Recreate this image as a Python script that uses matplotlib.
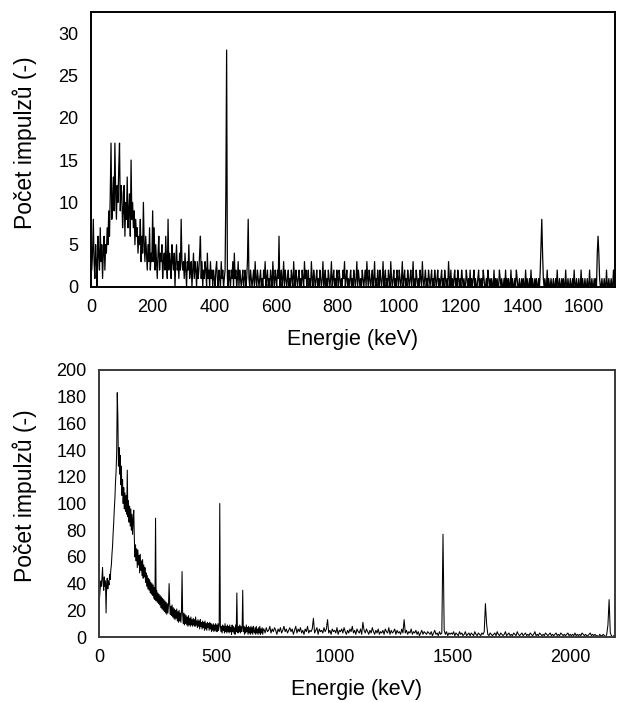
import numpy as np
import matplotlib
matplotlib.use("Agg")
import matplotlib.pyplot as plt

plt.rcParams['font.family'] = ['Liberation Sans', 'DejaVu Sans']
plt.rcParams['path.simplify'] = False

# ---------------- top spectrum: 2.5 keV channels, 0 .. 1697.5 keV ----------------
top_step_kev = 2.5
top_counts = [
    # 0-97.5
    5, 2, 4, 8, 3, 1, 5, 3, 0, 6, 4, 2, 7, 3, 5, 1, 4, 6, 2, 5,
    4, 7, 5, 9, 6, 11, 17, 8, 10, 13, 9, 17, 11, 8, 12, 10, 14, 17, 9, 12,
    # 100-197.5
    11, 7, 9, 12, 6, 10, 8, 13, 7, 9, 11, 6, 15, 8, 10, 7, 9, 5, 8, 6,
    7, 4, 6, 5, 8, 3, 6, 4, 10, 5, 3, 6, 4, 2, 5, 3, 7, 2, 4, 3,
    # 200-297.5
    9, 3, 7, 2, 5, 3, 1, 4, 6, 2, 4, 3, 5, 1, 3, 4, 2, 6, 3, 1,
    8, 2, 4, 3, 1, 5, 3, 2, 4, 0, 3, 5, 2, 3, 1, 4, 2, 8, 3, 2,
    # 300-397.5
    3, 1, 4, 2, 0, 3, 2, 5, 1, 2, 3, 0, 2, 4, 1, 3, 2, 0, 3, 1,
    2, 4, 6, 1, 3, 0, 2, 1, 3, 2, 0, 4, 1, 2, 0, 3, 1, 2, 0, 2,
    # 400-497.5
    1, 0, 2, 3, 1, 0, 2, 1, 0, 3, 1, 2, 0, 1, 2, 11, 28, 1, 0, 2,
    1, 0, 2, 1, 3, 0, 4, 1, 2, 0, 1, 3, 0, 2, 1, 0, 1, 2, 0, 1,
    # 500-597.5
    2, 0, 1, 3, 8, 1, 0, 2, 1, 0, 1, 2, 0, 3, 1, 0, 2, 1, 0, 1,
    2, 0, 1, 0, 2, 1, 3, 0, 1, 2, 0, 1, 0, 2, 1, 0, 3, 1, 0, 2,
    # 600-697.5
    1, 0, 2, 1, 6, 0, 1, 2, 0, 1, 3, 0, 2, 1, 0, 1, 2, 0, 1, 0,
    2, 1, 0, 3, 1, 0, 2, 1, 0, 1, 2, 0, 1, 0, 2, 1, 0, 3, 1, 2,
    # 700-797.5
    0, 1, 2, 0, 1, 0, 3, 1, 0, 2, 1, 0, 1, 2, 0, 1, 0, 2, 1, 0,
    1, 3, 0, 1, 2, 0, 1, 0, 2, 1, 0, 1, 3, 0, 1, 2, 0, 1, 0, 2,
    # 800-897.5
    1, 0, 2, 1, 0, 1, 0, 2, 1, 3, 0, 1, 2, 0, 1, 0, 1, 2, 0, 1,
    0, 2, 1, 0, 1, 3, 0, 2, 1, 0, 1, 0, 2, 1, 0, 1, 2, 0, 3, 1,
    # 900-997.5
    0, 2, 1, 0, 1, 2, 0, 1, 3, 0, 1, 0, 2, 1, 0, 2, 1, 0, 1, 3,
    0, 1, 2, 0, 1, 0, 2, 1, 0, 3, 1, 0, 1, 2, 0, 1, 0, 2, 1, 0,
    # 1000-1097.5
    2, 1, 0, 1, 3, 0, 1, 2, 0, 1, 0, 2, 1, 0, 1, 2, 0, 1, 3, 0,
    1, 0, 2, 1, 0, 1, 0, 2, 1, 0, 3, 1, 0, 1, 2, 0, 1, 0, 2, 1,
    # 1100-1197.5
    0, 1, 2, 0, 1, 0, 2, 1, 0, 1, 2, 0, 1, 0, 1, 2, 0, 1, 0, 2,
    1, 0, 1, 0, 3, 1, 0, 2, 0, 1, 0, 1, 2, 0, 1, 0, 2, 1, 0, 1,
    # 1200-1297.5
    0, 2, 1, 0, 1, 0, 0, 2, 1, 0, 1, 0, 2, 0, 1, 0, 1, 2, 0, 1,
    0, 0, 1, 2, 0, 1, 0, 1, 0, 2, 1, 0, 0, 1, 0, 2, 1, 0, 1, 0,
    # 1300-1397.5
    1, 0, 0, 2, 0, 1, 0, 1, 0, 0, 2, 1, 0, 1, 0, 0, 1, 0, 2, 0,
    1, 0, 1, 0, 0, 2, 0, 1, 0, 0, 1, 0, 2, 1, 0, 0, 1, 0, 0, 1,
    # 1400-1497.5
    0, 1, 0, 0, 2, 0, 1, 0, 0, 1, 0, 2, 0, 1, 0, 0, 1, 0, 1, 0,
    0, 1, 0, 2, 5, 8, 4, 1, 0, 1, 0, 0, 2, 0, 1, 0, 0, 1, 0, 0,
    # 1500-1597.5
    1, 0, 0, 1, 0, 2, 0, 0, 1, 0, 0, 1, 0, 1, 0, 0, 2, 0, 0, 1,
    0, 0, 1, 0, 0, 1, 0, 2, 0, 0, 1, 0, 0, 1, 0, 0, 2, 0, 1, 0,
    # 1600-1697.5
    0, 1, 0, 0, 1, 0, 0, 2, 0, 0, 1, 0, 0, 1, 0, 1, 0, 4, 6, 4,
    1, 0, 0, 1, 0, 0, 1, 0, 0, 2, 0, 0, 1, 0, 0, 1, 0, 0, 2, 0,
]
top_xticks = [0, 200, 400, 600, 800, 1000, 1200, 1400, 1600]
top_yticks = [0, 5, 10, 15, 20, 25, 30]

# ---------------- bottom spectrum ----------------
# low-energy part: 2.5 keV channels, 0 .. 697.5 keV
bottom_low_step_kev = 2.5
bottom_counts_low = [
    # 0-97.5
    22, 30, 36, 42, 38, 44, 52, 40, 35, 45, 38, 42, 18, 40, 44, 36, 42, 39, 47, 43,
    50, 54, 62, 68, 78, 86, 96, 104, 116, 124, 138, 183, 165, 128, 142, 122, 136, 114, 128, 106,
    # 100-197.5
    118, 100, 112, 96, 108, 94, 106, 92, 125, 90, 102, 86, 98, 83, 96, 80, 92, 77, 88, 95,
    74, 60, 69, 57, 66, 52, 65, 54, 61, 48, 62, 50, 57, 46, 58, 44, 54, 45, 52, 41,
    # 200-297.5
    48, 38, 46, 36, 44, 35, 43, 33, 41, 32, 40, 31, 39, 29, 37, 28, 89, 27, 35, 26,
    33, 25, 32, 24, 31, 22, 30, 21, 29, 20, 28, 19, 27, 18, 26, 17, 25, 18, 24, 40,
    # 300-397.5
    25, 17, 23, 16, 24, 15, 22, 14, 21, 13, 20, 14, 21, 12, 19, 11, 20, 12, 18, 11,
    19, 49, 17, 10, 18, 9, 17, 10, 16, 9, 15, 8, 16, 9, 14, 8, 15, 9, 13, 8,
    # 400-497.5
    14, 9, 13, 8, 15, 9, 12, 7, 13, 8, 12, 6, 13, 8, 11, 6, 12, 7, 11, 5,
    12, 6, 10, 5, 11, 7, 10, 5, 11, 6, 10, 4, 9, 5, 10, 4, 9, 5, 10, 4,
    # 500-597.5
    9, 4, 10, 5, 8, 100, 9, 4, 8, 3, 9, 5, 8, 3, 10, 4, 8, 3, 9, 4,
    8, 3, 9, 4, 7, 2, 9, 4, 8, 3, 7, 2, 9, 4, 33, 5, 3, 8, 4, 9,
    # 600-697.5
    3, 8, 4, 7, 35, 4, 8, 2, 7, 3, 9, 4, 7, 2, 8, 3, 7, 2, 8, 3,
    7, 2, 8, 4, 3, 7, 2, 8, 3, 6, 2, 7, 3, 8, 2, 6, 3, 7, 2, 6,
]
# high-energy part: 5 keV channels, 700 .. 2185 keV
bottom_high_start_kev = 700
bottom_high_step_kev = 5
bottom_counts_high = [
    6, 3, 7, 4, 5, 8, 3, 6, 4, 7, 5, 2, 6, 4, 7, 3, 5, 8, 4, 6,      # 700
    3, 5, 7, 4, 6, 2, 5, 8, 3, 6, 4, 7, 3, 5, 2, 6, 4, 8, 3, 5,      # 800
    4, 6, 14, 3, 5, 7, 2, 6, 4, 5, 3, 7, 4, 6, 13, 3, 5, 2, 6, 4,    # 900
    5, 3, 7, 2, 5, 4, 6, 3, 7, 4, 2, 5, 3, 6, 4, 8, 3, 5, 2, 6,      # 1000
    4, 3, 6, 2, 11, 5, 3, 6, 4, 2, 5, 3, 7, 4, 2, 5, 3, 6, 2, 4,     # 1100
    3, 5, 2, 6, 4, 3, 7, 2, 5, 3, 4, 6, 2, 5, 3, 4, 2, 6, 3, 13,     # 1200
    3, 5, 2, 4, 3, 6, 2, 4, 3, 5, 2, 4, 1, 3, 5, 2, 4, 3, 2, 4,      # 1300
    3, 2, 4, 1, 3, 5, 2, 3, 1, 4, 2, 3, 77, 5, 2, 4, 1, 3, 2, 3,     # 1400
    2, 4, 1, 3, 2, 1, 4, 2, 3, 1, 2, 4, 1, 2, 3, 1, 3, 2, 1, 4,      # 1500
    2, 1, 3, 2, 1, 3, 2, 4, 25, 10, 2, 1, 3, 2, 1, 2, 3, 1, 4, 2,    # 1600
    1, 3, 2, 1, 2, 4, 1, 2, 3, 1, 2, 1, 3, 2, 1, 4, 2, 1, 2, 3,      # 1700
    1, 2, 3, 1, 2, 1, 3, 2, 1, 2, 4, 1, 2, 1, 3, 2, 1, 2, 1, 3,      # 1800
    2, 1, 2, 3, 1, 2, 1, 2, 3, 1, 2, 1, 3, 2, 1, 2, 1, 2, 3, 1,      # 1900
    2, 1, 2, 1, 3, 1, 2, 1, 2, 1, 3, 2, 1, 2, 1, 1, 2, 3, 1, 2,      # 2000
    1, 2, 1, 1, 0, 2, 1, 1, 2, 1, 0, 2, 9, 28, 3, 1, 0, 1,           # 2100
]
bottom_xticks = [0, 500, 1000, 1500, 2000]
bottom_yticks = [0, 20, 40, 60, 80, 100, 120, 140, 160, 180, 200]

xlabel = "Energie (keV)"
ylabel = "Počet impulzů (-)"

# ---------------- build energy axes ----------------
top_energy = np.arange(len(top_counts)) * top_step_kev
bottom_energy = np.concatenate([
    np.arange(len(bottom_counts_low)) * bottom_low_step_kev,
    bottom_high_start_kev + np.arange(len(bottom_counts_high)) * bottom_high_step_kev,
])
bottom_counts = np.concatenate([bottom_counts_low, bottom_counts_high])

W, H = 618, 702
fig = plt.figure(figsize=(W / 100, H / 100), dpi=100)

ax1 = fig.add_axes([91 / W, 1 - 287 / H, (615 - 91) / W, (287 - 12) / H])
ax2 = fig.add_axes([99 / W, 1 - 637 / H, (615 - 99) / W, (637 - 370) / H])

ax1.plot(top_energy, top_counts, color='black', lw=0.9)
ax1.set_xlim(0, 1700)
ax1.set_ylim(0, 32.5)
ax1.set_xticks(top_xticks)
ax1.set_yticks(top_yticks)

ax2.plot(bottom_energy, bottom_counts, color='black', lw=0.75)
ax2.set_xlim(0, 2190)
ax2.set_ylim(0, 200)
ax2.set_xticks(bottom_xticks)
ax2.set_yticks(bottom_yticks)

for ax, spc in ((ax1, 'black'), (ax2, '#3a3a3a')):
    ax.tick_params(length=0, labelsize=13, pad=9)
    for s in ax.spines.values():
        s.set_color(spc)
        s.set_linewidth(1.4)
    ax.set_xlabel(xlabel, fontsize=15.5, labelpad=9)
    ax.set_ylabel(ylabel, fontsize=16.5)

ax1.yaxis.set_label_coords(-(91 - 37) / 524, (287 - 143) / 275)
ax2.yaxis.set_label_coords(-(99 - 37) / 516, (637 - 496) / 267)

fig.savefig("out.png", dpi=100)
